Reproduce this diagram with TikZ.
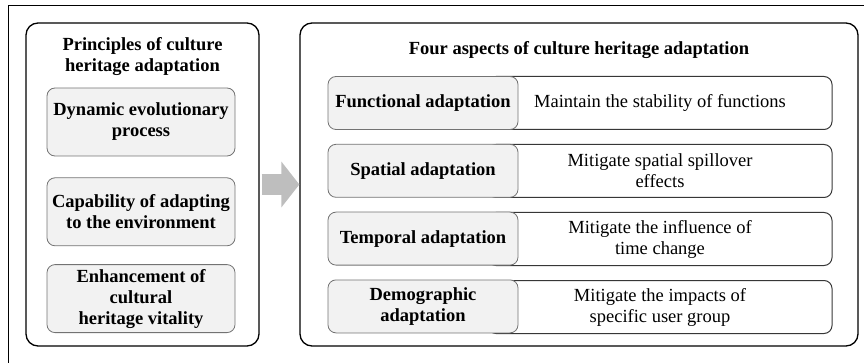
\documentclass[tikz,border=0pt]{standalone}
\usepackage{fontspec}
\setmainfont{Liberation Serif}
\usepackage{tikz}
\usetikzlibrary{
arrows.meta,
positioning
}
\definecolor{cellgray}{RGB}{242,242,242}
\definecolor{rimgray}{RGB}{115,115,115}
\definecolor{rimdark}{RGB}{55,55,55}
\definecolor{arrowgray}{RGB}{190,190,190}

\begin{document}
\begin{tikzpicture}[
  x=1pt, y=-1pt,
  panel/.style={draw=black, line width=1.3pt, rounded corners=12pt, minimum width=#1, minimum height=323pt},
  heading/.style={align=center, font=\fontsize{18.5}{21}\selectfont\bfseries},
  principle/.style={draw=rimgray, line width=0.8pt, fill=cellgray, rounded corners=8pt, minimum width=188pt, minimum height=68pt, inner sep=2pt, align=center, font=\fontsize{18.5}{21}\selectfont\bfseries},
  aspect/.style={draw=rimgray, line width=0.8pt, fill=cellgray, rounded corners=8pt, minimum width=190pt, minimum height=53pt, inner sep=2pt, align=center, font=\fontsize{18.5}{21}\selectfont\bfseries},
  detail/.style={draw=rimdark, line width=1pt, fill=white, rounded corners=8pt, minimum width=344pt, minimum height=53pt, inner sep=2pt, align=center, font=\fontsize{18.5}{21}\selectfont}
]
\useasboundingbox (0,0) rectangle (864,363);

% Outer frame (cropped)
\draw[line width=0.9pt] (8,363) -- (8,5) -- (864,5);

% Left panel
\node[panel=233pt] (left) at (142.5,184.5) {};
\node[heading] (lefttitle) at (142.5,57) {Principles of culture\\heritage adaptation};
\node[principle] (dynamic) at (141,122) {Dynamic evolutionary\\process};
\node[principle, below=21pt of dynamic] (capable) {Capability of adapting\\to the environment};
\node[principle, below=18pt of capable] (vitality) {Enhancement of\\cultural\\heritage vitality};

% Right panel
\node[panel=558pt] (right) at (579,184.5) {};
\node[heading] (righttitle) at (579,50) {Four aspects of culture heritage adaptation};

% Rows
\node[detail] (funcdet) at (660,103) {Maintain the stability of functions};
\node[aspect] (func) at (423,103) {Functional adaptation};
\node[detail, below=14pt of funcdet] (spatdet) {Mitigate spatial spillover\\effects};
\node[aspect, below=14pt of func] (spat) {Spatial adaptation};
\node[detail, below=14pt of spatdet] (tempdet) {Mitigate the influence of\\time change};
\node[aspect, below=14pt of spat] (temp) {Temporal adaptation};
\node[detail, below=14pt of tempdet] (demodet) {Mitigate the impacts of\\specific user group};
\node[aspect, below=14pt of temp] (demo) {Demographic\\adaptation};

% Arrow
\draw[arrowgray, line width=21pt, -{Triangle[length=18pt, width=45pt]}] ([xshift=2pt]left.east) -- (right.west);

\end{tikzpicture}
\end{document}
